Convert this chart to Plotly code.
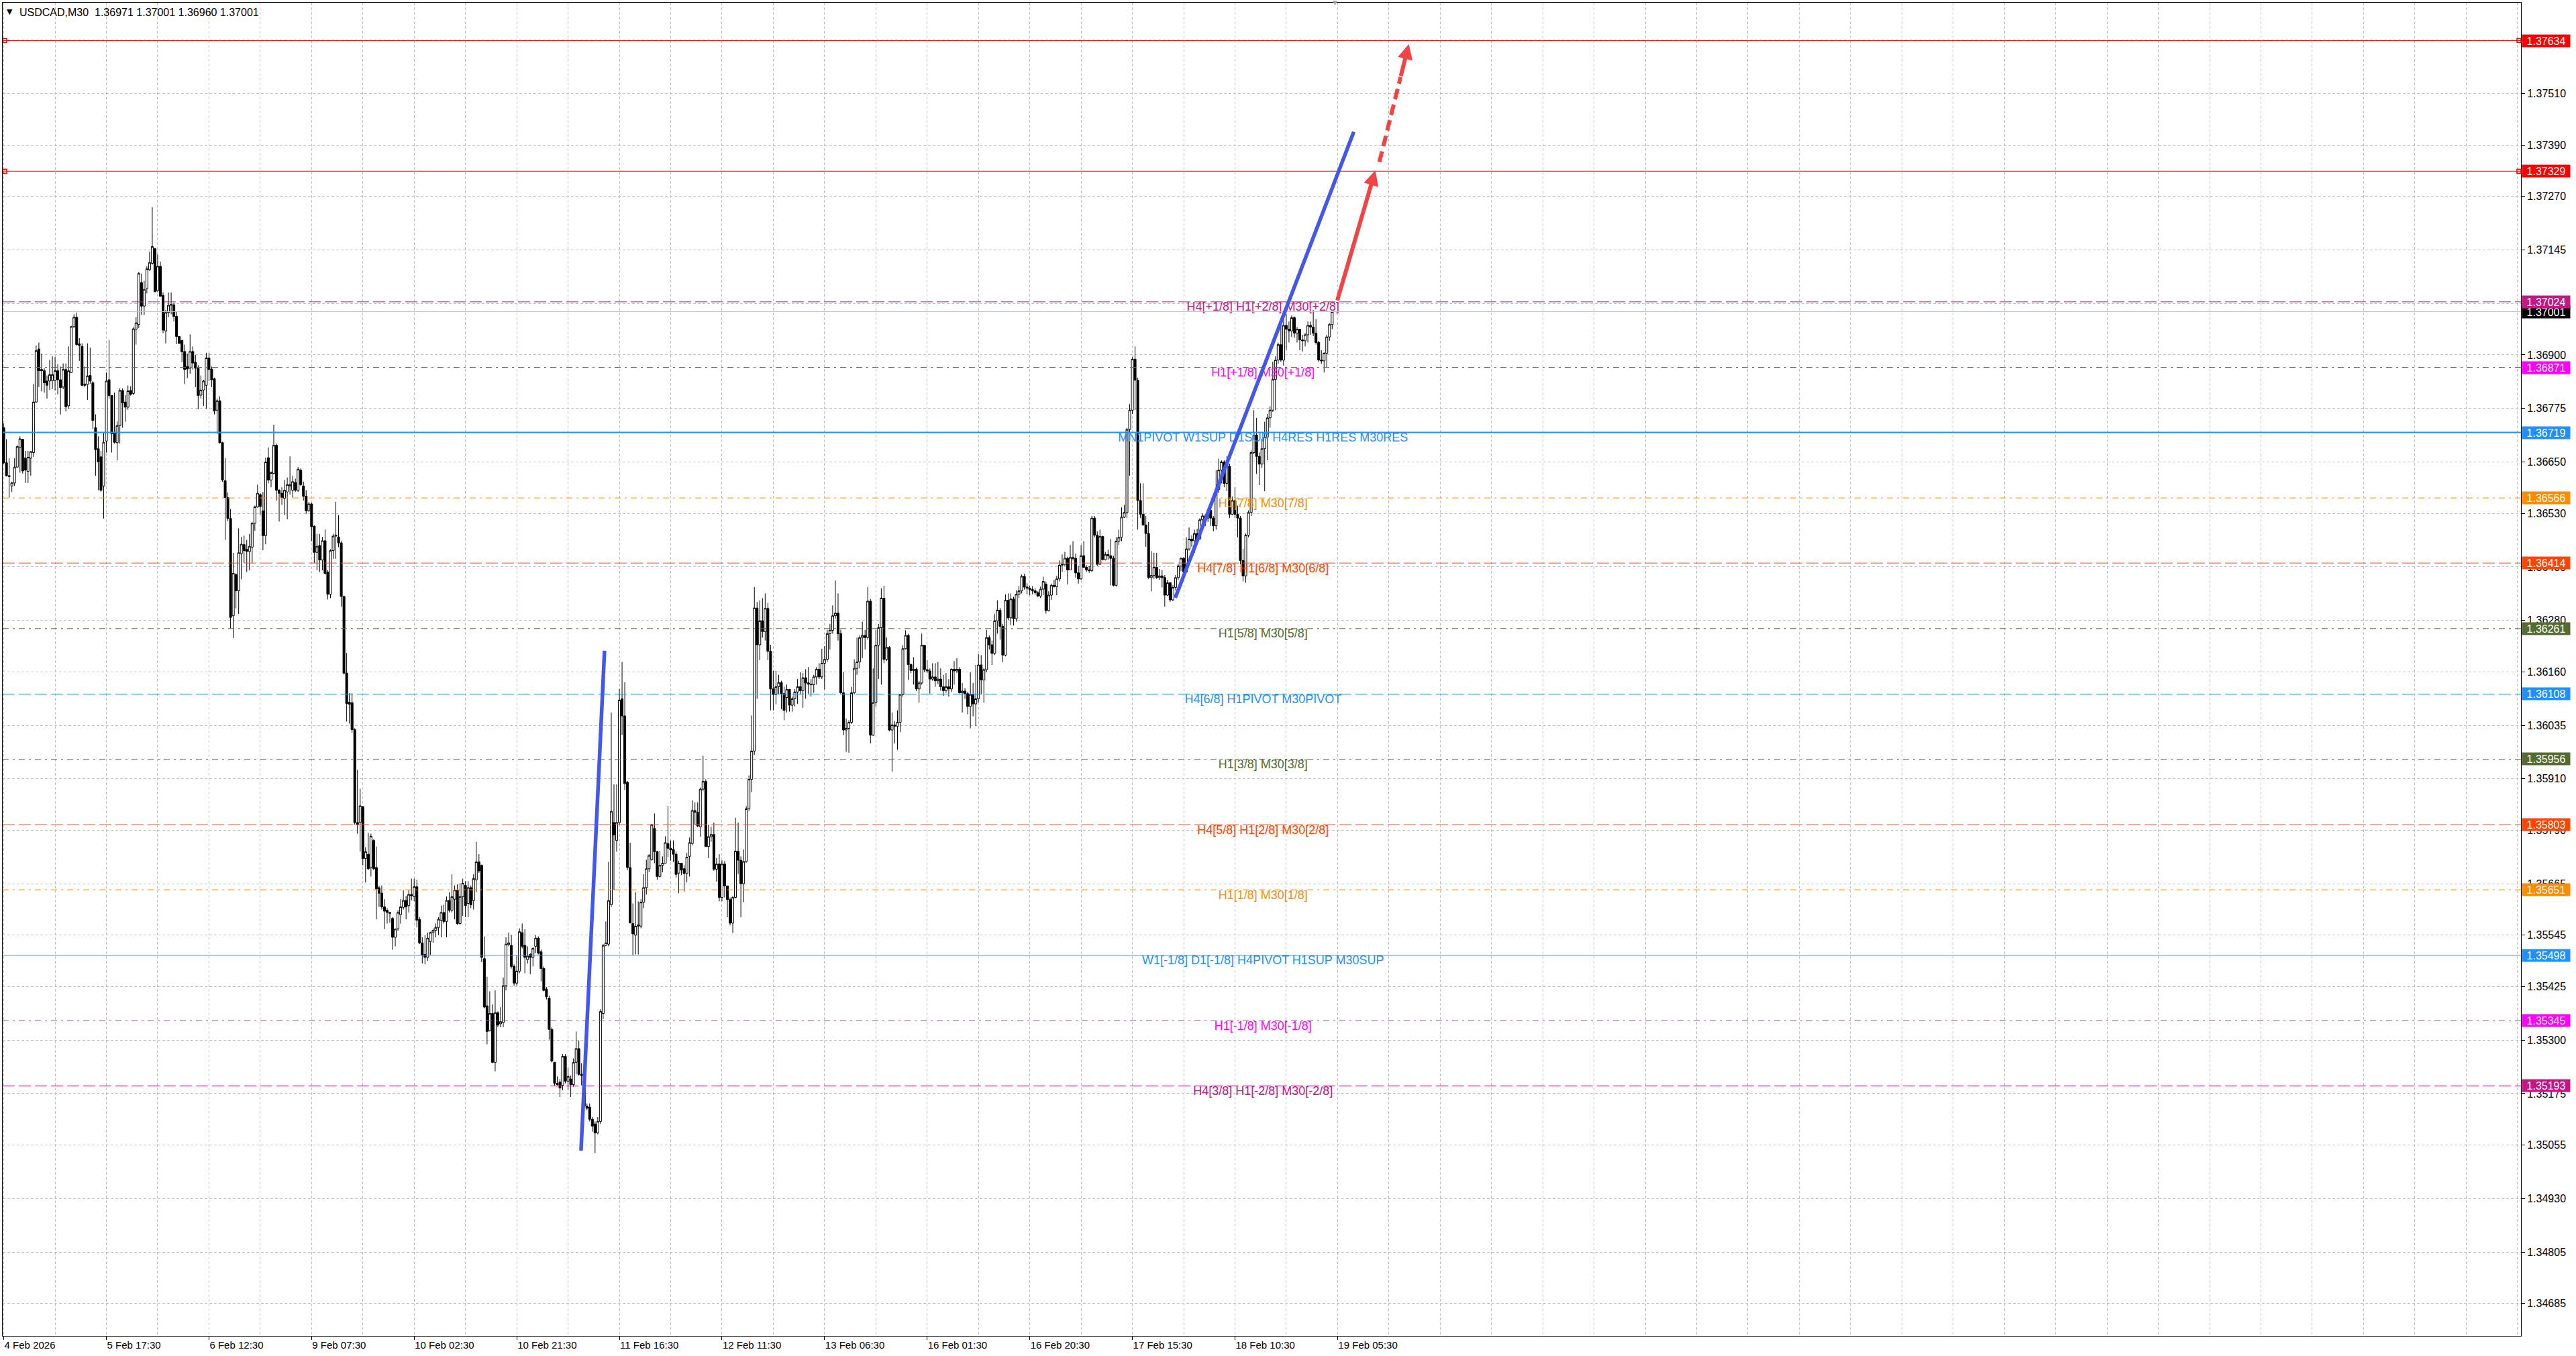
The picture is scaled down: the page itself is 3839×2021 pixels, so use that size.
import plotly.graph_objects as go

# USDCAD M30 candles, prices in points (1 point = 0.00001)
open_pts = [
    136730,136648,136618,136594,136601,136638,136684,136703,136659,136628,
    136659,136672,136790,136914,136866,136863,136839,136839,136840,136840,
    136863,136842,136825,136866,136781,136859,136966,136988,136926,136920,
    136829,136831,136852,136835,136730,136681,136662,136594,136699,136842,
    136805,136718,136695,136735,136817,136790,136778,136817,136810,136960,
    136971,137069,137014,137055,137099,137114,137148,137050,137107,137039,
    136956,136999,137016,137017,136990,136943,136934,136908,136873,136869,
    136908,136883,136869,136806,136818,136829,136893,136867,136844,136771,
    136793,136695,136606,136567,136518,136291,136387,136349,136436,136457,
    136446,136441,136451,136507,136545,136574,136536,136478,136660,136608,
    136623,136689,136584,136577,136565,136580,136594,136584,136602,136584,
    136631,136594,136570,136536,136552,136500,136439,136455,136421,136466,
    136393,136341,136443,136477,136475,136461,136336,136157,136089,136088,
    136025,135808,135808,135845,135724,135734,135703,135766,135703,135656,
    135643,135611,135603,135598,135584,135540,135560,135593,135610,135626,
    135614,135640,135635,135658,135582,135527,135500,135493,135530,135551,
    135556,135563,135580,135598,135577,135626,135603,135629,135650,135572,
    135635,135661,135619,135656,135626,135674,135716,135708,135490,135380,
    135322,135362,135248,135364,135338,135341,135427,135523,135521,135472,
    135433,135461,135551,135521,135488,135500,135493,135519,135538,135506,
    135467,135419,135398,135325,135248,135199,135202,135194,135262,135204,
    135209,135196,135248,135280,135220,135217,135146,135143,135115,135104,
    135083,135110,135362,135521,135524,135616,135808,135766,135808,136097,
    136057,135902,135703,135572,135545,135566,135566,135622,135656,135700,
    135721,135794,135740,135682,135708,135713,135759,135748,135745,135734,
    135690,135713,135700,135689,135729,135759,135836,135832,135798,135886,
    135904,135752,135775,135780,135699,135711,135633,135711,135660,135628,
    135573,135633,135741,135720,135665,135717,135840,135909,135975,136309,
    136223,136279,136254,136308,136208,136120,136107,136125,136135,136109,
    136100,136119,136082,136097,136113,136125,136116,136146,136134,136131,
    136130,136148,136166,136148,136180,136189,136249,136257,136291,136297,
    136249,136111,136024,136028,136042,136111,136168,136183,136240,136245,
    136240,136325,136012,136088,136222,136263,136332,136189,136217,136024,
    136036,136033,136042,136107,136214,136245,136177,136163,136166,136120,
    136134,136222,136165,136162,136143,136148,136139,136143,136125,136116,
    136125,136120,136166,136162,136166,136111,136115,136109,136079,136107,
    136085,136097,136176,136141,136165,136240,136223,136203,136279,136304,
    136266,136199,136327,136286,136330,136284,136341,136349,136383,136358,
    136355,136352,136349,136345,136337,136353,136365,136303,136339,136362,
    136359,136377,136409,136411,136425,136398,136427,136425,136391,136377,
    136431,136404,136398,136396,136519,136479,136411,136476,136422,136434,
    136431,136425,136362,136465,136474,136521,136532,136726,136771,136890,
    136841,136560,136528,136503,136483,136380,136385,136404,136380,136384,
    136380,136339,136368,136328,136357,136380,136407,136425,136393,136447,
    136470,136466,136483,136470,136515,136524,136519,136537,136519,136501,
    136586,136631,136650,136600,136640,136528,136560,136528,136519,136420,
    136384,136479,136532,136672,136713,136663,136645,136681,136708,136753,
    136771,136843,136888,136924,136888,136969,136960,136956,136987,136951,
    136960,136935,136933,136947,136969,136965,136951,136929,136888,136886,
    136904,136942,136971,
]
high_pts = [
    136740,136703,136659,136604,136659,136689,136710,136704,136676,136676,
    136676,136832,136922,136929,136903,136869,136852,136888,136897,136895,
    136878,136873,136880,136880,136920,136968,136995,136999,136939,136927,
    136873,136927,136917,136839,136761,136710,136676,136718,136859,136935,
    136806,136812,136745,136822,136822,136806,136829,136827,136965,136988,
    137094,137090,137073,137107,137141,137245,137150,137135,137118,137046,
    137005,137046,137046,137022,137002,136944,136935,136924,136903,136948,
    136920,136900,136876,136852,136842,136905,136905,136873,136847,136798,
    136803,136697,136659,136579,136540,136438,136390,136495,136475,136478,
    136468,136482,136509,136548,136597,136577,136580,136660,136684,136628,
    136737,136693,136587,136591,136608,136614,136663,136618,136611,136638,
    136635,136604,136584,136557,136555,136502,136482,136482,136475,136492,
    136397,136446,136482,136557,136526,136465,136338,136204,136110,136110,
    136028,135931,135887,135847,135750,135784,135782,135769,135752,135661,
    135661,135629,135608,135599,135587,135561,135603,135629,135650,135637,
    135650,135677,135677,135674,135587,135540,135545,135551,135553,135561,
    135572,135587,135614,135616,135635,135645,135687,135661,135664,135666,
    135677,135671,135671,135661,135687,135763,135734,135710,135542,135448,
    135414,135383,135416,135367,135377,135446,135540,135551,135545,135477,
    135498,135561,135572,135559,135519,135503,135517,135545,135542,135511,
    135472,135424,135404,135330,135249,135215,135209,135267,135267,135236,
    135217,135257,135320,135299,135246,135248,135152,135152,135120,135110,
    135120,135372,135524,135577,135716,136065,135897,135897,136120,136183,
    136136,135905,135761,135619,135645,135624,135629,135687,135721,135734,
    135805,135829,135742,135742,135729,135776,135847,135766,135766,135740,
    135719,135714,135708,135737,135773,135860,135855,135855,135890,135964,
    135909,135803,135798,135808,135725,135734,135720,135718,135660,135633,
    135637,135819,135808,135729,135745,135846,135918,136058,136358,136323,
    136327,136332,136343,136321,136223,136162,136162,136153,136139,136125,
    136130,136120,136102,136120,136143,136159,136157,136166,136171,136143,
    136153,136171,136180,136214,136220,136258,136272,136315,136373,136343,
    136258,136159,136051,136047,136125,136189,136240,136245,136277,136258,
    136358,136330,136168,136258,136272,136355,136361,136240,136220,136065,
    136045,136070,136108,136222,136257,136249,136180,136194,136170,136139,
    136249,136222,136187,136168,136180,136180,136183,136168,136153,136157,
    136143,136168,136185,136192,136171,136134,136122,136113,136159,136134,
    136176,136201,136199,136168,136258,136245,136233,136295,136327,136309,
    136272,136341,136343,136343,136335,136350,136361,136387,136389,136367,
    136361,136360,136355,136348,136359,136382,136371,136348,136366,136375,
    136384,136420,136434,136440,136429,136456,136465,136436,136407,136456,
    136465,136409,136407,136524,136524,136488,136492,136478,136440,136445,
    136470,136431,136474,136492,136544,136550,136730,136785,136895,136920,
    136847,136600,136600,136524,136510,136442,136438,136438,136400,136398,
    136386,136375,136368,136362,136386,136411,136427,136428,136474,136497,
    136479,136492,136494,136519,136530,136528,136542,136540,136524,136631,
    136658,136654,136654,136663,136646,136569,136591,136548,136524,136447,
    136483,136537,136677,136771,136753,136672,136704,136744,136762,136780,
    136884,136897,136929,136978,136992,136996,136978,136992,136990,136965,
    136960,136947,136951,136978,136978,137005,136983,136933,136911,136906,
    136947,136974,137001,
]
low_pts = [
    136645,136616,136567,136580,136594,136638,136625,136623,136601,136601,
    136618,136662,136788,136825,136815,136812,136798,136818,136820,136817,
    136808,136761,136820,136768,136774,136858,136963,136922,136886,136827,
    136825,136795,136832,136727,136618,136584,136580,136518,136672,136798,
    136672,136693,136654,136693,136730,136744,136772,136805,136806,136924,
    136963,136994,136993,137044,137096,137111,137046,137046,137036,136951,
    136927,136988,136995,136978,136925,136926,136883,136832,136846,136856,
    136866,136825,136773,136798,136781,136774,136839,136825,136761,136716,
    136693,136604,136468,136512,136261,136239,136308,136295,136376,136414,
    136393,136397,136414,136489,136543,136526,136444,136458,136600,136591,
    136621,136560,136511,136550,136526,136516,136574,136567,136580,136580,
    136594,136560,136529,136533,136465,136414,136397,136393,136397,136387,
    136329,136332,136424,136424,136451,136312,136154,136044,136039,136018,
    135803,135782,135740,135708,135668,135697,135682,135697,135582,135611,
    135605,135559,135572,135574,135511,135519,135555,135572,135605,135582,
    135598,135626,135624,135563,135524,135479,135477,135485,135498,135527,
    135540,135545,135540,135572,135540,135598,135598,135582,135569,135569,
    135590,135587,135587,135608,135605,135645,135690,135482,135374,135290,
    135320,135246,135227,135330,135330,135330,135416,135519,135467,135427,
    135427,135456,135514,135456,135479,135454,135472,135503,135500,135437,
    135414,135395,135301,135248,135194,135194,135167,135183,135199,135183,
    135167,135191,135220,135217,135194,135141,135136,135110,135086,135036,
    135080,135104,135349,135519,135519,135611,135650,135740,135803,136013,
    135884,135697,135572,135498,135500,135500,135561,135608,135640,135692,
    135719,135713,135674,135680,135692,135713,135727,135719,135716,135679,
    135643,135685,135647,135668,135682,135755,135803,135797,135775,135881,
    135751,135725,135763,135695,135670,135624,135624,135633,135587,135568,
    135550,135631,135688,135587,135622,135714,135835,135879,135966,136097,
    136187,136240,136233,136187,136070,136070,136084,136107,136073,136047,
    136065,136067,136067,136079,136085,136107,136076,136097,136109,136102,
    136111,136130,136143,136143,136119,136183,136212,136249,136284,136233,
    136107,136012,135973,135971,136038,136107,136153,136168,136192,136212,
    136235,135993,136010,136079,136143,136130,136180,136185,136021,135927,
    135993,135978,136019,136102,136212,136141,136157,136130,136115,136088,
    136130,136159,136157,136109,136139,136125,136131,136116,136104,136111,
    136102,136113,136130,136157,136109,136065,136097,136061,136028,136056,
    136033,136088,136107,136088,136159,136212,136176,136199,136249,136235,
    136183,136196,136281,136269,136268,136277,136332,136343,136352,136341,
    136339,136341,136340,136335,136332,136339,136296,136301,136328,136357,
    136339,136371,136393,136407,136364,136398,136420,136380,136366,136375,
    136402,136393,136391,136393,136474,136407,136411,136420,136420,136422,
    136362,136359,136359,136456,136465,136519,136519,136618,136762,136771,
    136492,136519,136501,136452,136377,136348,136377,136377,136375,136357,
    136312,136337,136323,136325,136350,136375,136395,136386,136393,136443,
    136452,136438,136462,136470,136501,136500,136510,136501,136488,136492,
    136577,136600,136591,136582,136519,136526,136519,136474,136411,136371,
    136368,136474,136524,136668,136622,136596,136636,136582,136654,136730,
    136767,136771,136879,136884,136875,136911,136929,136942,136940,136929,
    136911,136908,136920,136929,136947,136944,136924,136884,136879,136859,
    136870,136933,136960,
]
close_pts = [
    136648,136618,136616,136601,136638,136686,136704,136629,136631,136661,
    136674,136790,136910,136863,136863,136835,136829,136854,136854,136863,
    136842,136824,136866,136779,136863,136966,136988,136924,136922,136829,
    136832,136851,136839,136747,136679,136650,136584,136696,136839,136805,
    136716,136696,136735,136817,136788,136778,136816,136808,136961,136975,
    137090,137014,137053,137101,137116,137153,137048,137107,137037,136958,
    136999,137016,137018,136990,136943,136927,136907,136866,136867,136908,
    136881,136869,136805,136818,136839,136893,136866,136842,136769,136793,
    136695,136608,136567,136518,136287,136390,136349,136438,136458,136443,
    136441,136453,136507,136545,136577,136546,136478,136650,136608,136625,
    136689,136584,136577,136567,136584,136597,136597,136604,136584,136633,
    136597,136570,136536,136552,136499,136439,136453,136421,136466,136390,
    136341,136443,136477,136479,136461,136336,136157,136086,136084,136025,
    135808,135803,135847,135724,135740,135700,135776,135700,135653,135643,
    135611,135601,135598,135596,135540,135559,135598,135611,135626,135611,
    135640,135637,135658,135580,135527,135498,135493,135538,135551,135556,
    135563,135582,135598,135577,135626,135603,135635,135650,135572,135635,
    135666,135614,135656,135616,135677,135716,135695,135493,135377,135320,
    135362,135248,135364,135335,135343,135427,135524,135527,135472,135433,
    135461,135553,135519,135493,135496,135493,135514,135538,135503,135467,
    135416,135401,135325,135251,135199,135196,135188,135262,135204,135215,
    135196,135248,135280,135220,135217,135146,135141,135115,135099,135083,
    135110,135367,135521,135527,135626,135834,135779,135808,136094,136057,
    135899,135703,135574,135548,135566,135569,135622,135656,135700,135731,
    135803,135740,135682,135708,135713,135761,135748,135744,135734,135687,
    135713,135697,135689,135727,135761,135836,135832,135800,135886,135904,
    135752,135775,135780,135699,135711,135633,135711,135660,135628,135573,
    135633,135741,135720,135665,135717,135840,135909,135975,136309,136223,
    136279,136254,136308,136208,136120,136107,136125,136135,136109,136070,
    136119,136082,136097,136113,136125,136116,136146,136134,136131,136130,
    136148,136166,136148,136180,136189,136249,136257,136291,136297,136249,
    136111,136024,136028,136042,136111,136168,136183,136240,136245,136240,
    136325,136012,136088,136222,136263,136332,136189,136217,136024,136036,
    136033,136042,136107,136214,136245,136177,136163,136166,136120,136134,
    136222,136165,136162,136143,136148,136139,136143,136125,136116,136125,
    136120,136166,136162,136166,136111,136115,136109,136079,136107,136085,
    136097,136176,136141,136165,136240,136223,136203,136279,136304,136266,
    136199,136327,136286,136330,136284,136341,136349,136383,136358,136355,
    136352,136349,136345,136337,136353,136371,136303,136339,136362,136359,
    136377,136409,136411,136425,136398,136427,136425,136391,136377,136431,
    136404,136398,136396,136519,136479,136411,136476,136422,136434,136431,
    136425,136362,136465,136474,136521,136532,136726,136771,136890,136841,
    136560,136528,136503,136483,136380,136385,136404,136380,136384,136380,
    136339,136368,136328,136357,136380,136407,136425,136393,136447,136470,
    136466,136483,136470,136515,136524,136519,136537,136519,136501,136586,
    136631,136650,136600,136646,136528,136560,136528,136519,136420,136384,
    136479,136532,136672,136713,136663,136645,136681,136708,136753,136771,
    136843,136888,136924,136888,136969,136960,136956,136987,136951,136960,
    136935,136933,136947,136969,136965,136951,136929,136888,136886,136904,
    136942,136971,137001,
]

# time axis labels, one every 38 bars
time_label_bars = [0, 38, 76, 114, 152, 190, 228, 266, 304, 342, 380, 418, 456, 494]
time_labels = ["4 Feb 2026", "5 Feb 17:30", "6 Feb 12:30", "9 Feb 07:30", "10 Feb 02:30",
               "10 Feb 21:30", "11 Feb 16:30", "12 Feb 11:30", "13 Feb 06:30", "16 Feb 01:30",
               "16 Feb 20:30", "17 Feb 15:30", "18 Feb 10:30", "19 Feb 05:30"]

price_ticks = [1.37635, 1.37510, 1.37390, 1.37270, 1.37145, 1.37020, 1.36900, 1.36775,
               1.36650, 1.36530, 1.36405, 1.36280, 1.36160, 1.36035, 1.35910, 1.35790,
               1.35665, 1.35545, 1.35425, 1.35300, 1.35175, 1.35055, 1.34930, 1.34805,
               1.34685]

# murrey / pivot levels
level_prices = [1.37634, 1.37329, 1.37024, 1.36871, 1.36719, 1.36566, 1.36414, 1.36261,
                1.36108, 1.35956, 1.35803, 1.35651, 1.35498, 1.35345, 1.35193]
level_colors = ["#FF0000", "#FF0000", "#C71585", "#FF00FF", "#1E90FF", "#FF8C00", "#FF4500",
                "#556B2F", "#1E90FF", "#556B2F", "#FF4500", "#FF8C00", "#1E90FF", "#FF00FF",
                "#C71585"]
level_styles = ["solid", "solid", "dash", "dashdot", "solid", "dashdot", "dash", "dashdot",
                "dash", "dashdot", "dash", "dashdot", "solid", "dashdot", "dash"]
level_texts = ["", "",
               "H4[+1/8] H1[+2/8] M30[+2/8]",
               "H1[+1/8] M30[+1/8]",
               "MN1PIVOT W1SUP D1SUP H4RES H1RES M30RES",
               "H1[7/8] M30[7/8]",
               "H4[7/8] H1[6/8] M30[6/8]",
               "H1[5/8] M30[5/8]",
               "H4[6/8] H1PIVOT M30PIVOT",
               "H1[3/8] M30[3/8]",
               "H4[5/8] H1[2/8] M30[2/8]",
               "H1[1/8] M30[1/8]",
               "W1[-1/8] D1[-1/8] H4PIVOT H1SUP M30SUP",
               "H1[-1/8] M30[-1/8]",
               "H4[3/8] H1[-2/8] M30[-2/8]"]

bid_price = 1.37001
ohlc_header = "USDCAD,M30\u00a0\u00a01.36971 1.37001 1.36960 1.37001"

# hand-drawn objects (bar index, price)
blue_lines = [(213.8, 1.35042, 222.5, 1.36209), (433.9, 1.36333, 500.0, 1.37421)]
red_arrow = (493.8, 1.37025, 508.0, 1.37331)
red_dashed_arrow = (509.5, 1.37351, 520.4, 1.37626)

x_lo, x_hi = -0.4, 932.3
y_lo, y_hi = 1.346092, 1.377226
label_bar = 466.4

FONT = "Liberation Sans, Arial, sans-serif"
DASHES = {"solid": "solid", "dash": "18px,6px", "dashdot": "9px,6px,3px,6px"}

n = min(len(open_pts), len(high_pts), len(low_pts), len(close_pts))
o = [v / 1e5 for v in open_pts[:n]]
c = [v / 1e5 for v in close_pts[:n]]
h = [max(a, b, d) / 1e5 for a, b, d in zip(high_pts, open_pts, close_pts)][:n]
l = [min(a, b, d) / 1e5 for a, b, d in zip(low_pts, open_pts, close_pts)][:n]
bars = list(range(n))

fig = go.Figure()
fig.add_trace(go.Candlestick(
    x=bars, open=o, high=h, low=l, close=c,
    increasing=dict(line=dict(color="black", width=1), fillcolor="white"),
    decreasing=dict(line=dict(color="black", width=1), fillcolor="black"),
    whiskerwidth=0, showlegend=False, hoverinfo="skip",
))

# level labels in the chart
txt_idx = [i for i, t in enumerate(level_texts) if t]
fig.add_trace(go.Scatter(
    x=[label_bar] * len(txt_idx), y=[level_prices[i] for i in txt_idx],
    mode="text", text=[level_texts[i] for i in txt_idx], textposition="bottom center",
    textfont=dict(family=FONT, size=18, color=[level_colors[i] for i in txt_idx]),
    showlegend=False, hoverinfo="skip",
))

# anchor squares of the two red horizontal lines
fig.add_trace(go.Scatter(
    x=[x_lo + 0.75, x_hi - 0.75, x_lo + 0.75, x_hi - 0.75],
    y=[level_prices[0], level_prices[0], level_prices[1], level_prices[1]],
    mode="markers", marker=dict(symbol="square-open", size=6, color="#FF0000", line=dict(width=1.5)),
    showlegend=False, hoverinfo="skip", cliponaxis=False,
))

shapes = []
shapes.append(dict(type="line", xref="paper", x0=0, x1=1, yref="y", y0=bid_price, y1=bid_price,
                   line=dict(color="#C0C0C0", width=1), layer="above"))
for p, col, st in zip(level_prices, level_colors, level_styles):
    w = 2 if (st == "solid" and col == "#1E90FF" and p == level_prices[4]) else 1
    shapes.append(dict(type="line", xref="paper", x0=0, x1=1, yref="y", y0=p, y1=p,
                       line=dict(color=col, width=w, dash=DASHES[st]), layer="above"))
for x0, y0, x1, y1 in blue_lines:
    shapes.append(dict(type="line", xref="x", yref="y", x0=x0, y0=y0, x1=x1, y1=y1,
                       line=dict(color="#4257F0", width=5.5), layer="above"))

# dashed red arrow: dashed shaft + head
dx0, dy0, dx1, dy1 = red_dashed_arrow
mx, my = dx0 + 0.72 * (dx1 - dx0), dy0 + 0.72 * (dy1 - dy0)
shapes.append(dict(type="line", xref="x", yref="y", x0=dx0, y0=dy0, x1=mx, y1=my,
                   line=dict(color="#F24444", width=6, dash="16px,8px"), layer="above"))

annotations = []
rx0, ry0, rx1, ry1 = red_arrow
annotations.append(dict(x=rx1, y=ry1, ax=rx0, ay=ry0, xref="x", yref="y", axref="x", ayref="y",
                        text="", showarrow=True, arrowhead=2, arrowsize=0.75, arrowwidth=6,
                        arrowcolor="#F24444"))
annotations.append(dict(x=dx1, y=dy1, ax=mx, ay=my, xref="x", yref="y", axref="x", ayref="y",
                        text="", showarrow=True, arrowhead=2, arrowsize=0.75, arrowwidth=6,
                        arrowcolor="#F24444"))

# price boxes on the right scale
def price_box(p, col):
    return dict(x=1, xref="paper", xanchor="left", xshift=1, y=p, yref="y", yanchor="middle",
                text=f"{p:.5f}", showarrow=False, bgcolor=col, width=71, height=18,
                align="center", borderpad=0,
                font=dict(family=FONT, size=16, color="white"))

annotations.append(price_box(bid_price, "#000000"))
for p, col in zip(level_prices, level_colors):
    annotations.append(price_box(p, col))

# header
annotations.append(dict(x=0, y=1, xref="paper", yref="paper", xanchor="left", yanchor="top",
                        xshift=4, yshift=-5, text="\u25bc", showarrow=False,
                        font=dict(family="DejaVu Sans", size=11, color="black")))
annotations.append(dict(x=0, y=1, xref="paper", yref="paper", xanchor="left", yanchor="top",
                        xshift=23, yshift=-4, text=ohlc_header, showarrow=False,
                        font=dict(family=FONT, size=16, color="black")))
# chart shift marker
annotations.append(dict(x=n, y=1, xref="x", yref="paper", yanchor="middle", text="\u25bc",
                        showarrow=False, font=dict(family="DejaVu Sans", size=9, color="#A0A0A0")))

fig.update_layout(
    width=3839, height=2021, autosize=False,
    margin=dict(l=4, r=82, t=4, b=30, pad=0),
    paper_bgcolor="white", plot_bgcolor="white",
    shapes=shapes, annotations=annotations, showlegend=False,
    boxgap=0.25, boxgroupgap=0,
    xaxis=dict(
        range=[x_lo, x_hi], rangeslider=dict(visible=False), zeroline=False,
        tickmode="array", tickvals=time_label_bars, ticktext=time_labels,
        ticks="outside", ticklen=5, tickcolor="black", ticklabelposition="outside right",
        tickfont=dict(family=FONT, size=15, color="black"),
        showgrid=True, gridcolor="#C0C0C0", gridwidth=1, griddash="4px,3px",
        minor=dict(tickmode="linear", tick0=0, dtick=19, showgrid=True, ticks="",
                   gridcolor="#C0C0C0", gridwidth=1, griddash="4px,3px"),
        showline=True, linecolor="black", linewidth=1, mirror=True,
    ),
    yaxis=dict(
        range=[y_lo, y_hi], side="right", zeroline=False,
        tickmode="array", tickvals=price_ticks, ticktext=[f"{v:.5f}" for v in price_ticks],
        ticks="outside", ticklen=5, tickcolor="black",
        tickfont=dict(family=FONT, size=16, color="black"),
        showgrid=True, gridcolor="#C0C0C0", gridwidth=1, griddash="4px,3px",
        showline=True, linecolor="black", linewidth=1, mirror=True,
    ),
)

# remove the default page margin so the figure sits at the window's top-left corner
fig.write_html("out.html", config={"displayModeBar": False},
               post_script="document.body.style.margin='0';")
